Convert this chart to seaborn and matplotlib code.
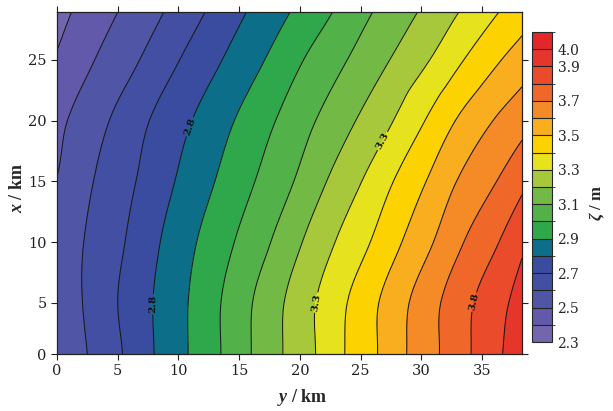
import numpy as np
import matplotlib
matplotlib.use("Agg")
import matplotlib.pyplot as plt
import matplotlib.tri as mtri
from matplotlib.colors import ListedColormap, BoundaryNorm
import seaborn as sns

# 1. seaborn 样式
sns.set_style("ticks")

# 2. 覆盖字体设置 (set_style 会重置 font.family)
plt.rcParams['font.family'] = ['DejaVu Serif']
plt.rcParams['mathtext.fontset'] = 'custom'
plt.rcParams['mathtext.it'] = 'Liberation Serif:italic:bold'
plt.rcParams['mathtext.rm'] = 'Liberation Serif:bold'
plt.rcParams['axes.unicode_minus'] = False

nan = np.nan

# 等值线 ζ / m
zeta_levels = [2.4, 2.5, 2.6, 2.7, 2.8, 2.9, 3.0, 3.1, 3.2, 3.3, 3.4, 3.5, 3.6, 3.7, 3.8, 3.9]

# 各行 x / km 上, 每条等值线所在的 y / km
row_x = [0.8, 5, 10, 15, 20, 25, 28.95]
cross_y = [
    [nan, nan, 2.5, 5.4, 8.0, 10.8, 13.5, 16.0, 18.6, 21.3, 23.7, 26.4, 28.8, 31.5, 34.1, 36.7],
    [nan, nan, 2.1, 5.0, 7.9, 10.8, 13.5, 16.1, 18.7, 21.3, 23.9, 26.5, 29.0, 31.6, 34.3, 37.2],
    [nan, nan, 2.2, 5.6, 8.5, 11.5, 14.6, 17.6, 20.2, 22.9, 25.8, 28.4, 31.0, 33.5, 36.4, nan],
    [nan, nan, 3.0, 6.5, 9.7, 13.0, 16.3, 19.5, 22.2, 25.1, 27.7, 30.4, 32.9, 36.2, nan, nan],
    [nan, 0.85, 4.3, 7.6, 11.1, 14.6, 18.0, 21.3, 24.6, 27.7, 30.3, 32.8, 35.9, nan, nan, nan],
    [nan, 3.1, 6.8, 10.1, 13.6, 17.1, 20.3, 23.9, 27.4, 30.7, 33.5, 36.6, nan, nan, nan, nan],
    [1.2, 5.0, 8.8, 12.2, 15.6, 19.2, 22.7, 26.0, 29.7, 33.1, 36.4, nan, nan, nan, nan, nan],
]

# 左边界 (y=0) 和右边界 (y=y_max) 上各行的 ζ
y_max = 38.3
left_zeta = [2.51, 2.53, 2.535, 2.505, 2.475, 2.41, 2.37]
right_zeta = [3.96, 3.94, 3.88, 3.775, 3.664, 3.548, 3.455]

# 等值线与左右边界的交点 x / km
left_cross_x = [25.8, 15.4]
left_cross_lv = [2.4, 2.5]
right_cross_x = [27.0, 22.8, 18.4, 13.9, 8.7]
right_cross_lv = [3.5, 3.6, 3.7, 3.8, 3.9]

# 填色分级和颜色
fill_bounds = [2.3, 2.4, 2.5, 2.6, 2.7, 2.8, 2.9, 3.0, 3.1, 3.2, 3.3,
               3.4, 3.5, 3.6, 3.7, 3.8, 3.9, 4.0, 4.1]
band_colors = ['#7466ae', '#6259aa', '#5055a6', '#434fa2', '#394c9f', '#0d6e8a',
               '#2ea84b', '#52b149', '#72b945', '#a8c83b', '#e6e21d', '#fcd200',
               '#f8ae1f', '#f48b27', '#ef6829', '#ea4b2b', '#e6352a', '#e3262a']
cbar_ticks = [2.3, 2.5, 2.7, 2.9, 3.1, 3.3, 3.5, 3.7, 3.9, 4.0]
x_ticks = [0, 5, 10, 15, 20, 25, 30, 35]
y_ticks = [0.8, 5, 10, 15, 20, 25]
y_ticklabels = ['0', '5', '10', '15', '20', '25']

# 等值线标注位置 (y, x)
label_lv = [2.8, 3.3, 3.8]
label_pos = [(11.2, 19.4), (7.8, 4.9), (26.7, 18.4), (21.5, 5.0), (34.6, 5.0)]

# 散点 -> 三角网
pts_y, pts_x, pts_z = [], [], []
for xr, ys, zl, zr in zip(row_x, cross_y, left_zeta, right_zeta):
    pts_y += [0.0, y_max]
    pts_x += [xr, xr]
    pts_z += [zl, zr]
    for lv, yy in zip(zeta_levels, ys):
        if not np.isnan(yy):
            pts_y.append(yy)
            pts_x.append(xr)
            pts_z.append(lv)
for xx, lv in zip(left_cross_x, left_cross_lv):
    pts_y.append(0.0); pts_x.append(xx); pts_z.append(lv)
for xx, lv in zip(right_cross_x, right_cross_lv):
    pts_y.append(y_max); pts_x.append(xx); pts_z.append(lv)

pts_z = np.array(pts_z)
tri = mtri.Triangulation(pts_y, pts_x)
interp = mtri.CubicTriInterpolator(tri, pts_z, kind='geom')
tri_f, z_f = mtri.UniformTriRefiner(tri).refine_field(pts_z, triinterpolator=interp, subdiv=3)
z_f = np.clip(z_f, 2.31, 4.09)

fig = plt.figure(figsize=(6.13, 4.11), dpi=100)
ax = fig.add_axes([57 / 613, 1 - 354 / 411, 465 / 613, 342 / 411])
cax = fig.add_axes([532 / 613, 1 - 342 / 411, 20 / 613, 310 / 411])

cmap = ListedColormap(band_colors)
norm = BoundaryNorm(fill_bounds, cmap.N)
cf = ax.tricontourf(tri_f, z_f, levels=fill_bounds, cmap=cmap, norm=norm)
plain_lv = [lv for lv in zeta_levels if lv not in label_lv]
ax.tricontour(tri_f, z_f, levels=plain_lv, colors='#1a1a1a', linewidths=0.75)
cl = ax.tricontour(tri_f, z_f, levels=label_lv, colors='#1a1a1a', linewidths=0.75)
texts = ax.clabel(cl, manual=label_pos, fmt='%.1f', fontsize=7.5, inline=True,
                  inline_spacing=2)
for t in texts:
    t.set_fontweight('bold')
    t.set_color('#111111')

ax.set_xlim(0, y_max)
ax.set_ylim(0.8, 28.95)
ax.set_xticks(x_ticks)
ax.set_yticks(y_ticks)
ax.set_yticklabels(y_ticklabels)
ax.tick_params(direction='out', length=4, width=0.8, top=True, right=True,
               labelsize=10.5, colors='#222222')
for s in ax.spines.values():
    s.set_linewidth(0.9)
    s.set_color('#222222')

cb = fig.colorbar(cf, cax=cax, ticks=cbar_ticks, drawedges=True)
cb.ax.set_yticklabels([f'{t:.1f}' for t in cbar_ticks])
cb.ax.tick_params(length=0, labelsize=10, pad=4)
cb.outline.set_linewidth(0.8)
cb.dividers.set_linewidth(0.8)
cb.dividers.set_color('#222222')

fig.text(302 / 613, 1 - 397 / 411, r'$y$ / km', ha='center', va='center',
         fontsize=13, fontweight='bold', family='Liberation Serif')
fig.text(17 / 613, 1 - 188 / 411, r'$x$ / km', ha='center', va='center',
         rotation=90, fontsize=13, fontweight='bold', family='Liberation Serif')
fig.text(597 / 613, 1 - 203 / 411, r'$\zeta$ / m', ha='center', va='center',
         rotation=90, fontsize=12, fontweight='bold', family='Liberation Serif')

fig.savefig('out.png', dpi=100)
